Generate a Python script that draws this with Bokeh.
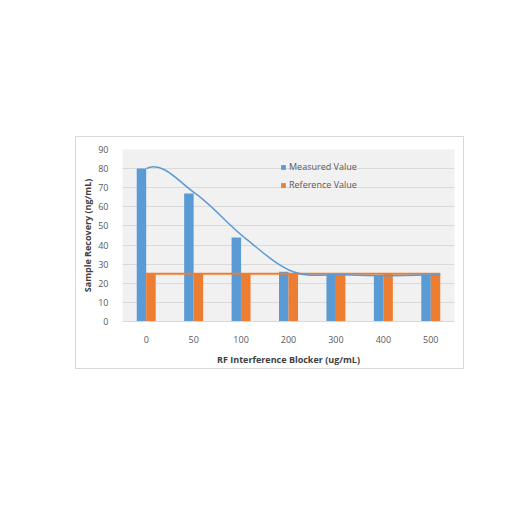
from bokeh.plotting import figure
from bokeh.models import (FixedTicker, Legend, LegendItem, Range1d, Spacer, ColumnDataSource)
from bokeh.layouts import column, row
from bokeh.embed import file_html
from bokeh.resources import INLINE

categories = ["0", "50", "100", "200", "300", "400", "500"]
measured = [80, 67, 44, 26, 24.5, 24, 24.5]
reference = [25, 25, 25, 25, 25, 25, 25]
y_ticks = [0, 10, 20, 30, 40, 50, 60, 70, 80, 90]

BLUE = "#5b9bd5"
ORANGE = "#ed7d31"
FONT = "Open Sans"

n = len(categories)
centers = [i + 0.5 for i in range(n)]
bar_w = 0.2

p = figure(width=387, height=231, output_backend="svg", toolbar_location=None,
           x_range=Range1d(0, n), y_range=Range1d(0, 90),
           min_border_left=46, min_border_right=9, min_border_top=12, min_border_bottom=45)
p.background_fill_color = "#f1f1f1"
p.border_fill_color = "white"
p.outline_line_color = None
p.styles = {"outline": "1px solid #d9d9d9", "outline-offset": "0px"}

# bars
b1 = p.vbar(x=[c - bar_w / 2 for c in centers], top=measured, width=bar_w,
            fill_color=BLUE, line_color=None)
b2 = p.vbar(x=[c + bar_w / 2 for c in centers], top=reference, width=bar_w,
            fill_color=ORANGE, line_color=None)

# lines (secondary-style placement spanning first centre to last orange bar edge)
x0 = centers[0]
x1 = centers[-1] + bar_w
lx = [x0 + i * (x1 - x0) / (n - 1) for i in range(n)]

p.line(x=lx, y=reference, line_color=ORANGE, line_width=2)

# smoothed measured curve via cubic Bezier segments
tang = []
for i in range(n):
    if i == 0:
        tang.append((lx[1] - lx[0], measured[0] - measured[1]))
    elif i == n - 1:
        tang.append((lx[i] - lx[i - 1], measured[i] - measured[i - 1]))
    else:
        tang.append(((lx[i + 1] - lx[i - 1]) / 2, (measured[i + 1] - measured[i - 1]) / 2))
src = ColumnDataSource(dict(
    x0=lx[:-1], y0=measured[:-1], x1=lx[1:], y1=measured[1:],
    cx0=[lx[i] + tang[i][0] / 3 for i in range(n - 1)],
    cy0=[measured[i] + tang[i][1] / 3 for i in range(n - 1)],
    cx1=[lx[i + 1] - tang[i + 1][0] / 3 for i in range(n - 1)],
    cy1=[measured[i + 1] - tang[i + 1][1] / 3 for i in range(n - 1)],
))
p.bezier(x0="x0", y0="y0", x1="x1", y1="y1", cx0="cx0", cy0="cy0", cx1="cx1", cy1="cy1",
         source=src, line_color=BLUE, line_width=1.5)

# axes
p.xaxis.ticker = FixedTicker(ticks=centers)
p.xaxis.major_label_overrides = {c: lab for c, lab in zip(centers, categories)}
p.yaxis.ticker = FixedTicker(ticks=y_ticks)
for ax in (p.xaxis[0], p.yaxis[0]):
    ax.major_tick_line_color = None
    ax.minor_tick_line_color = None
    ax.major_label_text_font = FONT
    ax.major_label_text_font_size = "9px"
    ax.major_label_text_color = "#595959"
    ax.axis_label_text_font = FONT
    ax.axis_label_text_font_size = "9px"
    ax.axis_label_text_font_style = "bold"
    ax.axis_label_text_color = "#404040"
p.xaxis.axis_line_color = "#d9d9d9"
p.yaxis.axis_line_color = None
p.xaxis.major_label_standoff = 8
p.yaxis.major_label_standoff = 8
p.xaxis.axis_label = "RF Interference Blocker (ug/mL)"
p.yaxis.axis_label = "Sample Recovery (ng/mL)"
p.xaxis.axis_label_standoff = 7
p.yaxis.axis_label_standoff = 1

p.xgrid.grid_line_color = None
p.ygrid.grid_line_color = "#dadada"
p.ygrid.grid_line_width = 1

legend = Legend(items=[LegendItem(label="Measured Value", renderers=[b1]),
                       LegendItem(label="Reference Value", renderers=[b2])],
                location=(158, 130), orientation="vertical")
legend.background_fill_alpha = 0
legend.border_line_color = None
legend.padding = 0
legend.margin = 0
legend.glyph_width = 6
legend.glyph_height = 6
legend.label_height = 6
legend.label_standoff = 3
legend.spacing = 5
legend.label_text_font = FONT
legend.label_text_font_size = "9px"
legend.label_text_color = "#595959"
p.add_layout(legend)

layout = column(Spacer(height=137), row(Spacer(width=76), p))
open("out.html", "w").write(file_html(layout, INLINE))
